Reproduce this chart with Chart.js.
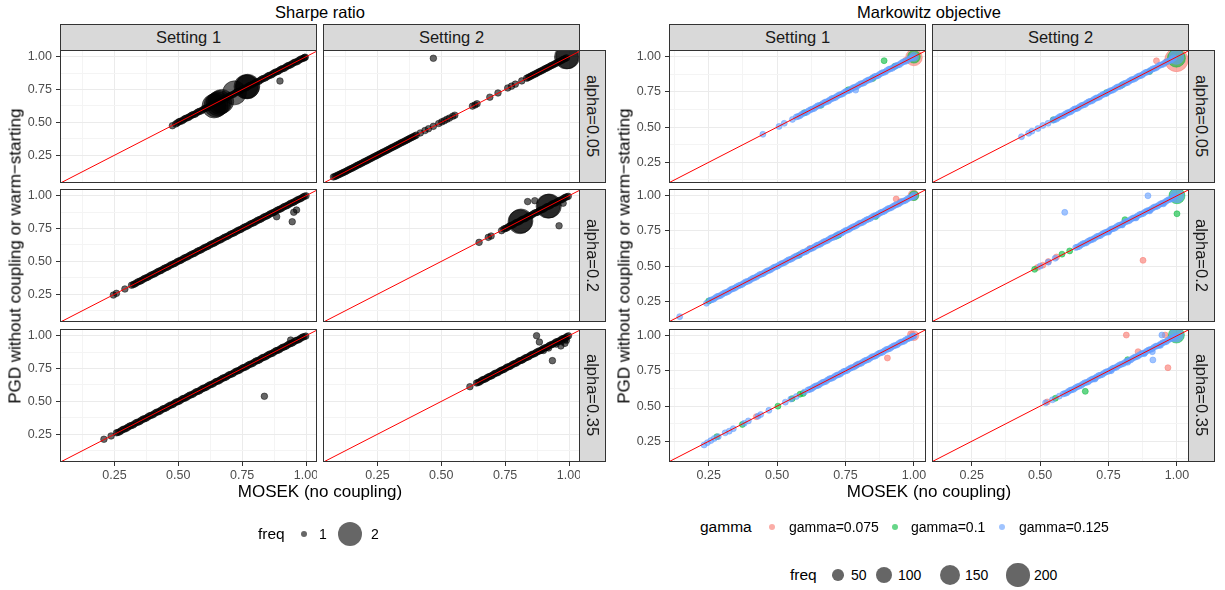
<!DOCTYPE html>
<html>
<head>
<meta charset="utf-8">
<script src="https://cdn.jsdelivr.net/npm/chart.js@4.4.1/dist/chart.umd.min.js"></script>
<style>
body { margin: 0; background: #fff; font-family: "Liberation Sans", Arial, sans-serif; }
#wrap { position: relative; width: 1225px; height: 590px; overflow: hidden; }
canvas { position: absolute; }
.t { position: absolute; white-space: nowrap; color: #000; line-height: 1; }
.strip { position: absolute; background: #D9D9D9; border: 1px solid #333; box-sizing: border-box;
         display: flex; align-items: center; justify-content: center; color: #1A1A1A; font-size: 16.5px; }
.vert { writing-mode: vertical-rl; }
.key { position: absolute; border-radius: 50%; }
</style>
</head>
<body>
<div id="wrap"></div>
<script>
// categories / labels
const settings = ["Setting 1", "Setting 2"];
const alphas = ["alpha=0.05", "alpha=0.2", "alpha=0.35"];
const gammas = ["gamma=0.075", "gamma=0.1", "gamma=0.125"];
const gammaColors = ["rgba(248,118,109,0.6)", "rgba(0,186,56,0.6)", "rgba(97,156,255,0.6)"];
const gridTicks = [0.125, 0.25, 0.375, 0.5, 0.625, 0.75, 0.875, 1];
const tickLabels = [0.25, 0.5, 0.75, 1];
const sharpeX = [0.037, 1.043], sharpeY = [0.039, 1.051];
const markX = [0.105, 1.044], markY = [0.103, 1.048];
const sharpeFreqBreaks = [1, 2];
const markFreqBreaks = [50, 100, 150, 200];

// Sharpe ratio points [MOSEK, PGD, freq]
const sharpeS1A05 = [[0.477,0.475],[0.49,0.488],[0.502,0.504],[0.515,0.512],[0.527,0.529],[0.54,0.538],[0.552,0.554],[0.565,0.562],[0.577,0.579],[0.59,0.588],[0.602,0.604],[0.615,0.612],[0.627,0.629],[0.64,0.625,2],[0.655,0.642,2],[0.67,0.66,2],[0.648,0.632,2],[0.662,0.652,2],[0.64,0.638],[0.652,0.654],[0.665,0.662],[0.677,0.679],[0.69,0.688],[0.702,0.704],[0.715,0.712],[0.72,0.725,2],[0.727,0.729],[0.74,0.738],[0.752,0.754],[0.765,0.762],[0.77,0.77,2],[0.765,0.772,2],[0.772,0.775,2],[0.777,0.779],[0.79,0.788],[0.802,0.804],[0.815,0.812],[0.827,0.829],[0.84,0.838],[0.852,0.854],[0.865,0.862],[0.877,0.879],[0.89,0.888],[0.898,0.815],[0.902,0.904],[0.915,0.912],[0.927,0.929],[0.94,0.938],[0.952,0.954],[0.965,0.962],[0.977,0.979],[0.99,0.988],[0.997,0.996],
    [0.496,0.496],[0.508,0.509],[0.521,0.521],[0.533,0.534],[0.546,0.546],[0.558,0.559],[0.571,0.571],[0.583,0.584],[0.596,0.596],[0.608,0.609],[0.621,0.621],[0.633,0.634],[0.646,0.646],[0.658,0.659],[0.671,0.671],[0.683,0.684],[0.696,0.696],[0.708,0.709],[0.721,0.721],[0.733,0.734],[0.746,0.746],[0.758,0.759],[0.771,0.771],[0.783,0.784],[0.796,0.796],[0.808,0.809],[0.821,0.821],[0.833,0.834],[0.846,0.846],[0.858,0.859],[0.871,0.871],[0.883,0.884],[0.896,0.896],[0.908,0.909],[0.921,0.921],[0.933,0.934],[0.946,0.946],[0.958,0.959],[0.971,0.971],[0.983,0.984],[0.994,0.994]];
const sharpeS2A05 = [[0.078,0.085],[0.09,0.094],[0.102,0.105],[0.114,0.116],[0.126,0.127],[0.138,0.14],[0.15,0.151],[0.162,0.163],[0.174,0.176],[0.186,0.187],[0.198,0.2],[0.21,0.211],[0.222,0.223],[0.234,0.236],[0.246,0.247],[0.258,0.259],[0.27,0.272],[0.282,0.283],[0.294,0.295],[0.306,0.308],[0.318,0.319],[0.33,0.331],[0.342,0.344],[0.354,0.355],[0.366,0.367],[0.378,0.38],[0.39,0.391],[0.402,0.403],[0.418,0.42],[0.436,0.438],[0.45,0.452],[0.469,0.47],[0.49,0.492],[0.502,0.504],[0.512,0.513],[0.522,0.524],[0.532,0.533],[0.545,0.547],[0.553,0.555],[0.622,0.624],[0.632,0.633],[0.64,0.642],[0.69,0.692],[0.722,0.724],[0.76,0.762],[0.775,0.776],[0.79,0.791],[0.815,0.816],[0.834,0.836],[0.846,0.847],[0.858,0.86],[0.87,0.871],[0.882,0.884],[0.894,0.895],[0.906,0.908],[0.918,0.919],[0.93,0.932],[0.942,0.943],[0.954,0.956],[0.966,0.967],[0.978,0.98],[0.99,0.991],[0.469,0.988],[0.995,1.0,2],[0.99,0.998,2],
    [0.084,0.089],[0.096,0.1],[0.108,0.111],[0.12,0.122],[0.132,0.134],[0.144,0.146],[0.156,0.157],[0.168,0.17],[0.18,0.181],[0.192,0.193],[0.204,0.205],[0.216,0.217],[0.228,0.229],[0.24,0.241],[0.252,0.253],[0.264,0.265],[0.276,0.277],[0.288,0.289],[0.3,0.301],[0.312,0.313],[0.324,0.325],[0.336,0.337],[0.348,0.349],[0.36,0.361],[0.372,0.373],[0.384,0.385],[0.396,0.397],
    [0.84,0.841],[0.852,0.853],[0.864,0.865],[0.876,0.877],[0.888,0.889],[0.9,0.901],[0.912,0.913],[0.924,0.925],[0.936,0.937],[0.948,0.949],[0.96,0.961],[0.972,0.973],[0.984,0.985]];
const sharpeS1A2 = [[0.246,0.244],[0.258,0.257],[0.291,0.29],[0.317,0.319],[0.33,0.329],[0.343,0.345],[0.356,0.355],[0.369,0.371],[0.382,0.381],[0.395,0.397],[0.408,0.407],[0.421,0.423],[0.434,0.433],[0.447,0.449],[0.46,0.459],[0.473,0.475],[0.486,0.485],[0.499,0.501],[0.512,0.511],[0.525,0.527],[0.538,0.537],[0.551,0.553],[0.564,0.563],[0.577,0.579],[0.59,0.589],[0.603,0.605],[0.616,0.615],[0.629,0.631],[0.642,0.641],[0.655,0.657],[0.668,0.667],[0.681,0.683],[0.694,0.693],[0.707,0.709],[0.72,0.719],[0.733,0.735],[0.746,0.745],[0.759,0.761],[0.772,0.771],[0.785,0.787],[0.798,0.797],[0.811,0.813],[0.824,0.823],[0.837,0.839],[0.85,0.849],[0.863,0.865],[0.876,0.875],[0.889,0.891],[0.902,0.901],[0.915,0.917],[0.928,0.927],[0.941,0.943],[0.954,0.953],[0.967,0.969],[0.98,0.979],[0.993,0.995],[1.0,0.999],[0.885,0.84],[0.946,0.802],[0.952,0.874],[0.963,0.891],
    [0.324,0.324],[0.337,0.338],[0.35,0.35],[0.363,0.364],[0.376,0.376],[0.389,0.39],[0.402,0.402],[0.415,0.416],[0.428,0.428],[0.441,0.442],[0.454,0.454],[0.467,0.468],[0.48,0.48],[0.493,0.494],[0.506,0.506],[0.519,0.52],[0.532,0.532],[0.545,0.546],[0.558,0.558],[0.571,0.572],[0.584,0.584],[0.597,0.598],[0.61,0.61],[0.623,0.624],[0.636,0.636],[0.649,0.65],[0.662,0.662],[0.675,0.676],[0.688,0.688],[0.701,0.702],[0.714,0.714],[0.727,0.728],[0.74,0.74],[0.753,0.754],[0.766,0.766],[0.779,0.78],[0.792,0.792],[0.805,0.806],[0.818,0.818],[0.831,0.832],[0.844,0.844],[0.857,0.858],[0.87,0.87],[0.883,0.884],[0.896,0.896],[0.909,0.91],[0.922,0.922],[0.935,0.936],[0.948,0.948],[0.961,0.962],[0.974,0.974],[0.987,0.988]];
const sharpeS2A2 = [[0.648,0.645],[0.684,0.683],[0.695,0.693],[0.736,0.734],[0.745,0.747],[0.757,0.755],[0.769,0.772],[0.781,0.779],[0.793,0.795],[0.805,0.803],[0.817,0.82],[0.829,0.827],[0.841,0.843],[0.853,0.851],[0.865,0.868],[0.877,0.875],[0.889,0.891],[0.901,0.899],[0.913,0.916],[0.925,0.923],[0.937,0.939],[0.949,0.947],[0.961,0.964],[0.973,0.971],[0.985,0.987],[0.997,0.995],[0.808,0.802,2],[0.812,0.808,2],[0.923,0.922,2],[0.918,0.92,2],[0.838,0.955],[0.866,0.962],[0.961,0.771],[0.977,0.943],
    [0.751,0.751],[0.763,0.764],[0.775,0.775],[0.787,0.788],[0.799,0.799],[0.811,0.812],[0.823,0.823],[0.835,0.836],[0.847,0.847],[0.859,0.86],[0.871,0.871],[0.883,0.884],[0.895,0.895],[0.907,0.908],[0.919,0.919],[0.931,0.932],[0.943,0.943],[0.955,0.956],[0.967,0.967],[0.979,0.98],[0.991,0.991]];
const sharpeS1A35 = [[0.209,0.212],[0.237,0.237],[0.258,0.261],[0.271,0.269],[0.284,0.287],[0.297,0.295],[0.31,0.313],[0.323,0.321],[0.336,0.339],[0.349,0.347],[0.362,0.365],[0.375,0.373],[0.388,0.391],[0.401,0.399],[0.414,0.417],[0.427,0.425],[0.44,0.443],[0.453,0.451],[0.466,0.469],[0.479,0.477],[0.492,0.495],[0.505,0.503],[0.518,0.521],[0.531,0.529],[0.544,0.547],[0.557,0.555],[0.57,0.573],[0.583,0.581],[0.596,0.599],[0.609,0.607],[0.622,0.625],[0.635,0.633],[0.648,0.651],[0.661,0.659],[0.674,0.677],[0.687,0.685],[0.7,0.703],[0.713,0.711],[0.726,0.729],[0.739,0.737],[0.752,0.755],[0.765,0.763],[0.778,0.781],[0.791,0.789],[0.804,0.807],[0.817,0.815],[0.83,0.833],[0.843,0.841],[0.856,0.859],[0.869,0.867],[0.882,0.885],[0.895,0.893],[0.908,0.911],[0.921,0.919],[0.934,0.937],[0.947,0.945],[0.96,0.963],[0.973,0.971],[0.986,0.989],[0.999,0.997],[0.837,0.539],[0.94,0.967],
    [0.264,0.264],[0.277,0.278],[0.29,0.29],[0.303,0.304],[0.316,0.316],[0.329,0.33],[0.342,0.342],[0.355,0.356],[0.368,0.368],[0.381,0.382],[0.394,0.394],[0.407,0.408],[0.42,0.42],[0.433,0.434],[0.446,0.446],[0.459,0.46],[0.472,0.472],[0.485,0.486],[0.498,0.498],[0.511,0.512],[0.524,0.524],[0.537,0.538],[0.55,0.55],[0.563,0.564],[0.576,0.576],[0.589,0.59],[0.602,0.602],[0.615,0.616],[0.628,0.628],[0.641,0.642],[0.654,0.654],[0.667,0.668],[0.68,0.68],[0.693,0.694],[0.706,0.706],[0.719,0.72],[0.732,0.732],[0.745,0.746],[0.758,0.758],[0.771,0.772],[0.784,0.784],[0.797,0.798],[0.81,0.81],[0.823,0.824],[0.836,0.836],[0.849,0.85],[0.862,0.862],[0.875,0.876],[0.888,0.888],[0.901,0.902],[0.914,0.914],[0.927,0.928],[0.94,0.94],[0.953,0.954],[0.966,0.966],[0.979,0.98],[0.992,0.992]];
const sharpeS2A35 = [[0.612,0.612],[0.638,0.64],[0.65,0.648],[0.662,0.665],[0.674,0.672],[0.686,0.688],[0.698,0.696],[0.71,0.713],[0.722,0.72],[0.734,0.736],[0.746,0.744],[0.758,0.761],[0.77,0.768],[0.782,0.784],[0.794,0.792],[0.806,0.809],[0.818,0.816],[0.83,0.832],[0.842,0.84],[0.854,0.857],[0.866,0.864],[0.878,0.88],[0.89,0.888],[0.902,0.905],[0.914,0.912],[0.926,0.928],[0.938,0.936],[0.95,0.953],[0.962,0.96],[0.974,0.976],[0.986,0.984],[0.998,0.999],[0.9,0.888],[0.92,0.906],[0.95,0.936],[0.97,0.955],[0.985,0.972],[0.873,1.0],[0.884,0.952],[0.935,0.81],[0.968,0.922],[0.984,0.942],[0.99,0.965],
    [0.644,0.644],[0.656,0.657],[0.668,0.668],[0.68,0.681],[0.692,0.692],[0.704,0.705],[0.716,0.716],[0.728,0.729],[0.74,0.74],[0.752,0.753],[0.764,0.764],[0.776,0.777],[0.788,0.788],[0.8,0.801],[0.812,0.812],[0.824,0.825],[0.836,0.836],[0.848,0.849],[0.86,0.86],[0.872,0.873],[0.884,0.884],[0.896,0.897],[0.908,0.908],[0.92,0.921],[0.932,0.932],[0.944,0.945],[0.956,0.956],[0.968,0.969],[0.98,0.98],[0.992,0.993]];

// Markowitz objective points, one list per gamma
const markS1A05Pink = [[0.97,0.975],[1.0,0.995,103]];
const markS1A05Green = [[0.6,0.602],[0.66,0.655],[0.76,0.765],[0.85,0.846],[0.93,0.932],[0.891,0.972],[1.0,1.0,60]];
const markS1A05Blue = [[0.448,0.449],[0.507,0.505],[0.526,0.527],[0.556,0.555],[0.57,0.572],[0.583,0.58],[0.596,0.599],[0.609,0.606],[0.622,0.624],[0.635,0.632],[0.648,0.651],[0.661,0.658],[0.674,0.676],[0.687,0.684],[0.7,0.703],[0.713,0.71],[0.726,0.728],[0.739,0.736],[0.752,0.755],[0.765,0.762],[0.778,0.78],[0.791,0.788],[0.804,0.807],[0.817,0.814],[0.83,0.832],[0.843,0.84],[0.856,0.859],[0.869,0.866],[0.882,0.884],[0.895,0.892],[0.908,0.911],[0.921,0.918],[0.934,0.936],[0.947,0.944],[0.96,0.963],[0.973,0.97],[0.986,0.988],[0.999,0.997],[0.787,0.763],
    [0.576,0.576],[0.589,0.59],[0.602,0.602],[0.615,0.616],[0.628,0.628],[0.641,0.642],[0.654,0.654],[0.667,0.668],[0.68,0.68],[0.693,0.694],[0.706,0.706],[0.719,0.72],[0.732,0.732],[0.745,0.746],[0.758,0.758],[0.771,0.772],[0.784,0.784],[0.797,0.798],[0.81,0.81],[0.823,0.824],[0.836,0.836],[0.849,0.85],[0.862,0.862],[0.875,0.876],[0.888,0.888],[0.901,0.902],[0.914,0.914],[0.927,0.928],[0.94,0.94],[0.953,0.954],[0.966,0.966],[0.979,0.98],[0.992,0.992],[1.0,1.0,30]];
const markS2A05Pink = [[0.925,0.971],[0.96,0.962],[0.998,0.977,203]];
const markS2A05Green = [[0.548,0.552],[0.742,0.745],[0.8,0.8],[0.9,0.895],[0.998,0.99,120]];
const markS2A05Blue = [[0.432,0.432],[0.458,0.456],[0.47,0.471],[0.492,0.49],[0.51,0.512],[0.529,0.527],[0.547,0.549],[0.56,0.557],[0.573,0.576],[0.586,0.583],[0.599,0.601],[0.612,0.609],[0.625,0.628],[0.638,0.635],[0.651,0.653],[0.664,0.661],[0.677,0.68],[0.69,0.687],[0.703,0.705],[0.716,0.713],[0.729,0.732],[0.742,0.739],[0.755,0.757],[0.768,0.765],[0.781,0.784],[0.794,0.791],[0.807,0.809],[0.82,0.817],[0.833,0.836],[0.846,0.843],[0.859,0.861],[0.872,0.869],[0.885,0.888],[0.898,0.895],[0.911,0.913],[0.924,0.921],[0.937,0.94],[0.95,0.947],[0.963,0.965],[0.976,0.973],[0.989,0.992],
    [0.553,0.553],[0.566,0.567],[0.579,0.579],[0.592,0.593],[0.605,0.605],[0.618,0.619],[0.631,0.631],[0.644,0.645],[0.657,0.657],[0.67,0.671],[0.683,0.683],[0.696,0.697],[0.709,0.709],[0.722,0.723],[0.735,0.735],[0.748,0.749],[0.761,0.761],[0.774,0.775],[0.787,0.787],[0.8,0.801],[0.813,0.813],[0.826,0.827],[0.839,0.839],[0.852,0.853],[0.865,0.865],[0.878,0.879],[0.891,0.891],[0.904,0.905],[0.917,0.917],[0.93,0.931],[0.943,0.943],[0.956,0.957],[0.969,0.969],[0.982,0.983],[0.998,0.998,80]];
const markS1A2Pink = [[0.62,0.625],[0.935,0.977],[0.95,0.958],[0.998,1.005,40]];
const markS1A2Green = [[0.25,0.252],[0.58,0.578],[0.715,0.712],[0.725,0.72],[0.86,0.852],[1.0,1.0,35]];
const markS1A2Blue = [[0.144,0.141],[0.242,0.236],[0.255,0.257],[0.268,0.265],[0.281,0.284],[0.294,0.292],[0.307,0.309],[0.32,0.318],[0.333,0.336],[0.346,0.344],[0.359,0.361],[0.372,0.37],[0.385,0.388],[0.398,0.396],[0.411,0.413],[0.424,0.422],[0.437,0.44],[0.45,0.448],[0.463,0.465],[0.476,0.474],[0.489,0.492],[0.502,0.5],[0.515,0.517],[0.528,0.526],[0.541,0.544],[0.554,0.552],[0.567,0.569],[0.58,0.578],[0.593,0.596],[0.606,0.604],[0.619,0.621],[0.632,0.63],[0.645,0.648],[0.658,0.656],[0.671,0.673],[0.684,0.682],[0.697,0.7],[0.71,0.708],[0.723,0.725],[0.736,0.734],[0.749,0.752],[0.762,0.76],[0.775,0.777],[0.788,0.786],[0.801,0.804],[0.814,0.812],[0.827,0.829],[0.84,0.838],[0.853,0.856],[0.866,0.864],[0.879,0.881],[0.892,0.89],[0.905,0.908],[0.918,0.916],[0.931,0.933],[0.944,0.942],[0.957,0.96],[0.97,0.968],[0.983,0.985],[0.996,0.994],
    [0.261,0.261],[0.274,0.275],[0.287,0.287],[0.3,0.301],[0.313,0.313],[0.326,0.327],[0.339,0.339],[0.352,0.353],[0.365,0.365],[0.378,0.379],[0.391,0.391],[0.404,0.405],[0.417,0.417],[0.43,0.431],[0.443,0.443],[0.456,0.457],[0.469,0.469],[0.482,0.483],[0.495,0.495],[0.508,0.509],[0.521,0.521],[0.534,0.535],[0.547,0.547],[0.56,0.561],[0.573,0.573],[0.586,0.587],[0.599,0.599],[0.612,0.613],[0.625,0.625],[0.638,0.639],[0.651,0.651],[0.664,0.665],[0.677,0.677],[0.69,0.691],[0.703,0.703],[0.716,0.717],[0.729,0.729],[0.742,0.743],[0.755,0.755],[0.768,0.769],[0.781,0.781],[0.794,0.795],[0.807,0.807],[0.82,0.821],[0.833,0.833],[0.846,0.847],[0.859,0.859],[0.872,0.873],[0.885,0.885],[0.898,0.899],[0.911,0.911],[0.924,0.925],[0.937,0.937],[0.95,0.951],[0.963,0.963],[0.976,0.977],[0.989,0.989],[1.0,1.0,20]];
const markS2A2Pink = [[0.49,0.49],[0.51,0.507],[0.53,0.532],[0.56,0.565],[0.876,0.541]];
const markS2A2Green = [[0.48,0.477],[0.58,0.585],[0.608,0.608],[0.81,0.83],[1.0,0.872],[1.0,1.0,95]];
const markS2A2Blue = [[0.5,0.5],[0.53,0.528],[0.555,0.556],[0.59,0.882],[0.894,1.0],[0.63,0.632],[0.643,0.64],[0.656,0.659],[0.669,0.666],[0.682,0.684],[0.695,0.692],[0.708,0.711],[0.721,0.718],[0.734,0.736],[0.747,0.744],[0.76,0.763],[0.773,0.77],[0.786,0.788],[0.799,0.796],[0.812,0.815],[0.825,0.822],[0.838,0.84],[0.851,0.848],[0.864,0.867],[0.877,0.874],[0.89,0.892],[0.903,0.9],[0.916,0.919],[0.929,0.926],[0.942,0.944],[0.955,0.952],[0.968,0.971],[0.981,0.978],[0.994,0.996],[0.75,0.742],[0.8,0.792],[0.85,0.842],[0.9,0.892],[0.95,0.942],
    [0.636,0.636],[0.649,0.65],[0.662,0.662],[0.675,0.676],[0.688,0.688],[0.701,0.702],[0.714,0.714],[0.727,0.728],[0.74,0.74],[0.753,0.754],[0.766,0.766],[0.779,0.78],[0.792,0.792],[0.805,0.806],[0.818,0.818],[0.831,0.832],[0.844,0.844],[0.857,0.858],[0.87,0.87],[0.883,0.884],[0.896,0.896],[0.909,0.91],[0.922,0.922],[0.935,0.936],[0.948,0.948],[0.961,0.962],[0.974,0.974],[0.987,0.988],[1.0,1.0,73]];
const markS1A35Pink = [[0.424,0.425],[0.79,0.79],[0.903,0.842],[0.99,1.01,20],[1.0,1.0,35]];
const markS1A35Green = [[0.28,0.283],[0.373,0.37],[0.503,0.5],[0.555,0.553],[0.584,0.585],[0.595,0.59]];
const markS1A35Blue = [[0.233,0.224],[0.245,0.24],[0.258,0.255],[0.27,0.27],[0.285,0.283],[0.31,0.31],[0.325,0.322],[0.34,0.34],[0.38,0.378],[0.395,0.395],[0.43,0.428],[0.44,0.44],[0.47,0.47],[0.53,0.528],[0.55,0.55],[0.57,0.568],[0.6,0.6],[0.613,0.615],[0.626,0.623],[0.639,0.642],[0.652,0.649],[0.665,0.667],[0.678,0.675],[0.691,0.694],[0.704,0.701],[0.717,0.719],[0.73,0.727],[0.743,0.746],[0.756,0.753],[0.769,0.771],[0.782,0.779],[0.795,0.798],[0.808,0.805],[0.821,0.823],[0.834,0.831],[0.847,0.85],[0.86,0.857],[0.873,0.875],[0.886,0.883],[0.899,0.902],[0.912,0.909],[0.925,0.927],[0.938,0.935],[0.951,0.954],[0.964,0.961],[0.977,0.979],[0.99,0.987],[1.0,0.998],
    [0.619,0.619],[0.632,0.633],[0.645,0.645],[0.658,0.659],[0.671,0.671],[0.684,0.685],[0.697,0.697],[0.71,0.711],[0.723,0.723],[0.736,0.737],[0.749,0.749],[0.762,0.763],[0.775,0.775],[0.788,0.789],[0.801,0.801],[0.814,0.815],[0.827,0.827],[0.84,0.841],[0.853,0.853],[0.866,0.867],[0.879,0.879],[0.892,0.893],[0.905,0.905],[0.918,0.919],[0.931,0.931],[0.944,0.945],[0.957,0.957],[0.97,0.971],[0.983,0.983],[0.996,0.997]];
const markS2A35Pink = [[0.526,0.53],[0.815,1.005],[0.957,1.005],[0.967,0.773],[0.858,0.887]];
const markS2A35Green = [[0.556,0.556],[0.665,0.605],[0.82,0.83],[0.998,1.005,95]];
const markS2A35Blue = [[0.52,0.524],[0.545,0.545],[0.57,0.571],[0.584,0.586],[0.597,0.594],[0.61,0.613],[0.623,0.62],[0.636,0.638],[0.649,0.646],[0.662,0.665],[0.675,0.672],[0.688,0.69],[0.701,0.698],[0.714,0.717],[0.727,0.724],[0.74,0.742],[0.753,0.75],[0.766,0.769],[0.779,0.776],[0.792,0.794],[0.805,0.802],[0.818,0.821],[0.831,0.828],[0.844,0.846],[0.857,0.854],[0.87,0.873],[0.883,0.88],[0.896,0.898],[0.909,0.906],[0.922,0.925],[0.935,0.932],[0.948,0.95],[0.961,0.958],[0.974,0.977],[0.987,0.984],[1.0,0.998],[0.7,0.692],[0.76,0.752],[0.82,0.812],[0.88,0.872],[0.94,0.932],[0.945,1.005],[0.91,0.887],[0.912,0.828],
    [0.59,0.59],[0.603,0.604],[0.616,0.616],[0.629,0.63],[0.642,0.642],[0.655,0.656],[0.668,0.668],[0.681,0.682],[0.694,0.694],[0.707,0.708],[0.72,0.72],[0.733,0.734],[0.746,0.746],[0.759,0.76],[0.772,0.772],[0.785,0.786],[0.798,0.798],[0.811,0.812],[0.824,0.824],[0.837,0.838],[0.85,0.85],[0.863,0.864],[0.876,0.876],[0.889,0.89],[0.902,0.902],[0.915,0.916],[0.928,0.928],[0.941,0.942],[0.954,0.954],[0.967,0.968],[0.98,0.98],[0.993,0.994],[0.998,1.005,73]];

const sharpePanels = [[sharpeS1A05, sharpeS2A05], [sharpeS1A2, sharpeS2A2], [sharpeS1A35, sharpeS2A35]];
const markPanels = [
    [[markS1A05Pink, markS1A05Green, markS1A05Blue], [markS2A05Pink, markS2A05Green, markS2A05Blue]],
    [[markS1A2Pink, markS1A2Green, markS1A2Blue], [markS2A2Pink, markS2A2Green, markS2A2Blue]],
    [[markS1A35Pink, markS1A35Green, markS1A35Blue], [markS2A35Pink, markS2A35Green, markS2A35Blue]]
];

// layout
const PW = 257, PH = 133;
const rowTop = [50, 189, 329];
const wrap = document.getElementById("wrap");

function sharpeRadius(f) { return 3.3 + (f - 1) * 8.7; }
function markRadius(f) { return Math.max(3, 0.82 * Math.sqrt(f)); }

const groups = [
    {
        title: "Sharpe ratio", cols: [60, 323], xLim: sharpeX, yLim: sharpeY, radius: sharpeRadius,
        series: (r, c) => [{ pts: sharpePanels[r][c], color: "rgba(0,0,0,0.6)" }]
    },
    {
        title: "Markowitz objective", cols: [669, 932], xLim: markX, yLim: markY, radius: markRadius,
        series: (r, c) => markPanels[r][c].map((pts, i) => ({ pts: pts, color: gammaColors[i] }))
    }
];

const isMajor = v => tickLabels.some(t => Math.abs(t - v) < 1e-9);

const frame = {
    id: "frame",
    afterDraw(chart) {
        const a = chart.chartArea, ctx = chart.ctx;
        ctx.save();
        ctx.strokeStyle = "#333333";
        ctx.lineWidth = 1;
        ctx.strokeRect(a.left + 0.5, a.top + 0.5, a.right - a.left - 1, a.bottom - a.top - 1);
        ctx.restore();
    }
};

function axis(lim, show, horizontal, pad) {
    return {
        type: "linear", min: lim[0], max: lim[1],
        afterBuildTicks: s => { s.ticks = gridTicks.map(v => ({ value: v })); },
        afterFit: s => {
            if (horizontal) s.height = pad; else s.width = pad;
            s.paddingLeft = s.paddingRight = s.paddingTop = s.paddingBottom = 0;
        },
        grid: {
            color: ctx => ctx.tick && isMajor(ctx.tick.value) ? "#EBEBEB" : "#F4F4F4",
            lineWidth: 1,
            drawTicks: show,
            tickLength: 4,
            tickColor: ctx => ctx.tick && isMajor(ctx.tick.value) ? "#333333" : "rgba(0,0,0,0)"
        },
        border: { display: false },
        ticks: {
            display: show, autoSkip: false, maxRotation: 0, padding: horizontal ? 2 : 4,
            color: "#4D4D4D", font: { family: "Liberation Sans", size: 12.5 },
            callback: v => isMajor(v) ? v.toFixed(2) : ""
        }
    };
}

function panel(g, r, c) {
    const showY = c === 0, showX = r === 2;
    const padL = showY ? 46 : 0, padB = showX ? 24 : 0;
    const left = g.cols[c], top = rowTop[r];
    const cv = document.createElement("canvas");
    cv.width = PW + padL;
    cv.height = PH + padB;
    cv.style.left = (left - padL) + "px";
    cv.style.top = top + "px";
    wrap.appendChild(cv);

    const lo = Math.min(g.xLim[0], g.yLim[0]), hi = Math.max(g.xLim[1], g.yLim[1]);
    const datasets = [{
        type: "line", showLine: true, data: [{ x: lo, y: lo }, { x: hi, y: hi }],
        borderColor: "#FF0000", borderWidth: 1, pointRadius: 0, clip: 0, order: 0
    }];
    g.series(r, c).forEach((s, i) => {
        datasets.push({
            type: "scatter",
            data: s.pts.map(p => ({ x: p[0], y: p[1], f: p[2] || 1 })),
            pointBackgroundColor: s.color,
            pointBorderColor: s.color,
            pointBorderWidth: 0.8,
            pointRadius: ctx => g.radius(ctx.raw ? ctx.raw.f : 1),
            clip: 0,
            order: 10 - i
        });
    });

    new Chart(cv, {
        type: "scatter",
        data: { datasets: datasets },
        options: {
            responsive: false, animation: false, devicePixelRatio: 1,
            layout: { padding: 0, autoPadding: false },
            events: [],
            plugins: { legend: { display: false }, tooltip: { enabled: false } },
            scales: {
                x: axis(g.xLim, showX, true, padB),
                y: axis(g.yLim, showY, false, padL)
            }
        },
        plugins: [frame]
    });
}

function text(str, cx, cy, size, extra) {
    const d = document.createElement("div");
    d.className = "t";
    d.textContent = str;
    d.style.fontSize = size + "px";
    d.style.left = cx + "px";
    d.style.top = cy + "px";
    d.style.transform = "translate(-50%,-50%)" + (extra || "");
    wrap.appendChild(d);
    return d;
}

function leftText(str, x, cy, size) {
    const d = document.createElement("div");
    d.className = "t";
    d.textContent = str;
    d.style.fontSize = size + "px";
    d.style.left = x + "px";
    d.style.top = cy + "px";
    d.style.transform = "translateY(-50%)";
    wrap.appendChild(d);
}

function key(cx, cy, r, color) {
    const d = document.createElement("div");
    d.className = "key";
    d.style.left = (cx - r) + "px";
    d.style.top = (cy - r) + "px";
    d.style.width = (2 * r) + "px";
    d.style.height = (2 * r) + "px";
    d.style.background = color;
    wrap.appendChild(d);
}

groups.forEach(g => {
    for (let r = 0; r < 3; r++) for (let c = 0; c < 2; c++) panel(g, r, c);

    settings.forEach((s, c) => {
        const d = document.createElement("div");
        d.className = "strip";
        d.style.left = g.cols[c] + "px";
        d.style.top = "24px";
        d.style.width = PW + "px";
        d.style.height = "27px";
        d.textContent = s;
        wrap.appendChild(d);
    });
    alphas.forEach((a, r) => {
        const d = document.createElement("div");
        d.className = "strip vert";
        d.style.left = (g.cols[1] + PW - 1) + "px";
        d.style.top = rowTop[r] + "px";
        d.style.width = "27px";
        d.style.height = PH + "px";
        d.textContent = a;
        wrap.appendChild(d);
    });

    const mid = (g.cols[0] + g.cols[1] + PW) / 2;
    text(g.title, mid, 12, 16.5);
    text("MOSEK (no coupling)", mid, 491, 17);
    text("PGD without coupling or warm\u2212starting", g.cols[0] - 45, 256, 17, " rotate(-90deg)");
});

// legends
leftText("freq", 258, 534, 15.5);
const sharpeKeyX = [304, 350], sharpeLabX = [319, 371];
sharpeFreqBreaks.forEach((f, i) => {
    key(sharpeKeyX[i], 534, sharpeRadius(f), "rgba(0,0,0,0.6)");
    leftText(String(f), sharpeLabX[i], 534, 14);
});

leftText("gamma", 700, 527, 15.5);
const gammaKeyX = [772, 895, 1002], gammaLabX = [789, 911, 1019];
gammas.forEach((gm, i) => {
    key(gammaKeyX[i], 527, 3.4, gammaColors[i]);
    leftText(gm, gammaLabX[i], 527, 14);
});

leftText("freq", 790, 575, 15.5);
const markKeyX = [838, 884, 950, 1018], markLabX = [851, 898, 965, 1034];
markFreqBreaks.forEach((f, i) => {
    key(markKeyX[i], 575, markRadius(f), "rgba(0,0,0,0.6)");
    leftText(String(f), markLabX[i], 575, 14);
});
</script>
</body>
</html>
